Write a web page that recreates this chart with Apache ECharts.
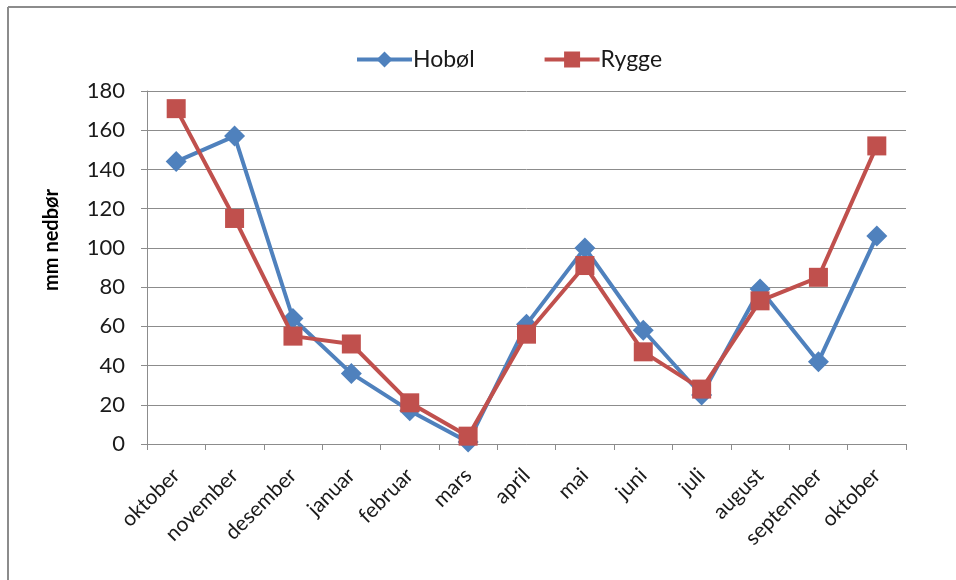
<!DOCTYPE html>
<html>
<head>
<meta charset="utf-8">
<script src="https://cdn.jsdelivr.net/npm/echarts@6/dist/echarts.min.js"></script>
<style>
  html, body { margin: 0; padding: 0; background: #fff; }
  #chart { width: 956px; height: 580px; }
</style>
</head>
<body>
<div id="chart"></div>
<script>
// Months from October to October
const months = ['oktober', 'november', 'desember', 'januar', 'februar', 'mars',
  'april', 'mai', 'juni', 'juli', 'august', 'september', 'oktober'];

// Monthly precipitation (mm)
const hobol = [144, 157, 64, 36, 17, 1, 61, 100, 58, 25, 79, 42, 106];
const rygge = [171, 115, 55, 51, 21, 4, 56, 91, 47, 28, 73, 85, 152];

const yTicks = [0, 20, 40, 60, 80, 100, 120, 140, 160, 180];

const FONT = 'Lato, "Open Sans", sans-serif';
const BLUE = '#4F81BD';
const RED = '#C0504D';

const chart = echarts.init(document.getElementById('chart'), null, { renderer: 'canvas' });

chart.setOption({
  backgroundColor: '#ffffff',
  animation: false,
  textStyle: { fontFamily: FONT },
  graphic: [
    { type: 'line', shape: { x1: 8, y1: 7, x2: 956, y2: 7 }, style: { stroke: '#8c8c8c', lineWidth: 2 } },
    { type: 'line', shape: { x1: 8, y1: 7, x2: 8, y2: 580 }, style: { stroke: '#8c8c8c', lineWidth: 2 } },
    {
      type: 'text', x: 52, y: 240, rotation: Math.PI / 2,
      style: {
        text: 'mm nedbør', fill: '#000', font: 'bold 20px ' + FONT,
        align: 'center', verticalAlign: 'middle'
      }
    }
  ],
  legend: {
    left: 350, top: 43,
    itemWidth: 55, itemHeight: 20, itemGap: 68,
    lineStyle: { width: 4 },
    textStyle: { fontSize: 23, color: '#1a1a1a', fontFamily: FONT, padding: [0, 0, 0, -4] },
    data: ['Hobøl', 'Rygge']
  },
  grid: { left: 147, right: 50, top: 91, bottom: 136 },
  xAxis: {
    type: 'category',
    data: months,
    boundaryGap: true,
    axisLine: { lineStyle: { color: '#8c8c8c', width: 1 } },
    axisTick: { show: true, length: 6, alignWithLabel: false, lineStyle: { color: '#8c8c8c' } },
    axisLabel: { rotate: 45, fontSize: 21, color: '#1a1a1a', margin: 28, fontFamily: FONT, interval: 0 },
    splitLine: { show: false }
  },
  yAxis: {
    type: 'value',
    min: yTicks[0], max: yTicks[yTicks.length - 1], interval: 20,
    axisLine: { show: true, lineStyle: { color: '#8c8c8c', width: 1 } },
    axisTick: { show: true, length: 6, lineStyle: { color: '#8c8c8c' } },
    axisLabel: { fontSize: 22, color: '#1a1a1a', margin: 22, fontFamily: FONT },
    splitLine: { show: true, lineStyle: { color: '#8c8c8c', width: 1 } }
  },
  series: [
    {
      name: 'Hobøl', type: 'line', data: hobol,
      symbol: 'diamond', symbolSize: [21, 21],
      itemStyle: { color: BLUE },
      lineStyle: { color: BLUE, width: 4 },
      z: 2
    },
    {
      name: 'Rygge', type: 'line', data: rygge,
      symbol: 'rect', symbolSize: 19,
      itemStyle: { color: RED },
      lineStyle: { color: RED, width: 4 },
      z: 3
    }
  ]
});
</script>
</body>
</html>
